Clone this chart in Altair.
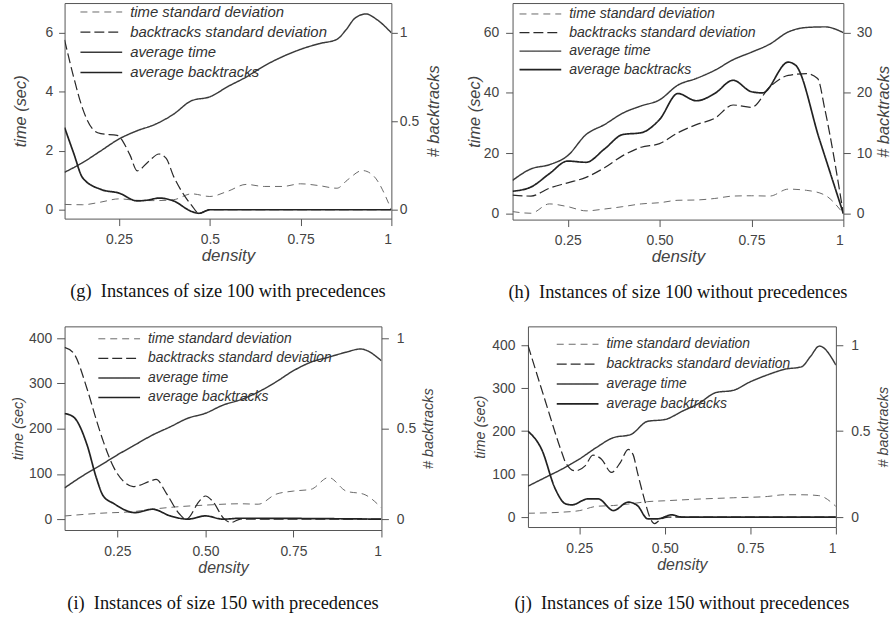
import altair as alt
import pandas as pd

SERIES = ["time standard deviation", "backtracks standard deviation", "average time", "average backtracks"]
DASHES = [[7, 5], [10, 4], [1, 0], [1, 0]]
WIDTHS = [1.0, 1.7, 1.0, 1.8]
COLORS = ["#6a6a6a", "#2a2a2a", "#3a3a3a", "#222222"]

STEP = [0.10, 0.15, 0.20, 0.25, 0.30, 0.35, 0.40, 0.45, 0.50, 0.55, 0.60,
        0.65, 0.70, 0.75, 0.80, 0.85, 0.90, 0.95, 1.00]

# ---------------- panel (g) ----------------
G_AT_X = [0.10, 0.15, 0.20, 0.25, 0.30, 0.35, 0.40, 0.45, 0.50, 0.55, 0.60, 0.65, 0.70, 0.75, 0.80, 0.85, 0.875, 0.90, 0.93, 0.96, 1.00]
G_AT_Y = [1.27, 1.60, 2.00, 2.40, 2.68, 2.90, 3.24, 3.70, 3.83, 4.18, 4.50, 4.88, 5.19, 5.44, 5.63, 5.78, 6.10, 6.50, 6.64, 6.45, 6.00]
G_TSD_X = [0.10, 0.15, 0.20, 0.25, 0.30, 0.35, 0.40, 0.45, 0.50, 0.55, 0.60, 0.65, 0.70, 0.75, 0.80, 0.85, 0.88, 0.92, 0.95, 1.00]
G_TSD_Y = [0.18, 0.17, 0.26, 0.37, 0.32, 0.31, 0.34, 0.54, 0.45, 0.63, 0.86, 0.79, 0.79, 0.88, 0.82, 0.73, 1.02, 1.33, 1.16, 0.00]
G_BSD_X = [0.10, 0.125, 0.15, 0.18, 0.20, 0.245, 0.28, 0.30, 0.33, 0.36, 0.38, 0.40, 0.43, 0.45, 0.47, 0.50, 0.55, 1.00]
G_BSD_Y = [0.96, 0.75, 0.57, 0.45, 0.43, 0.42, 0.31, 0.22, 0.27, 0.315, 0.29, 0.19, 0.08, 0.025, -0.02, 0.0, 0.0, 0.0]
G_AB_X = [0.10, 0.125, 0.15, 0.20, 0.25, 0.30, 0.33, 0.36, 0.40, 0.45, 0.47, 0.50, 0.55, 1.00]
G_AB_Y = [0.465, 0.32, 0.18, 0.115, 0.094, 0.05, 0.055, 0.066, 0.05, -0.01, -0.02, 0.0, 0.0, 0.0]

# ---------------- panel (h) ----------------
H_AT_X = STEP
H_AT_Y = [11.0, 14.8, 16.2, 19.2, 26.2, 29.5, 33.3, 35.7, 37.7, 42.6, 44.8, 47.5, 51.0, 53.5, 56.2, 60.2, 61.7, 61.9, 60.0]
H_TSD_X = STEP
H_TSD_Y = [0.65, 0.1, 3.2, 2.3, 0.9, 1.5, 2.3, 3.2, 3.6, 4.4, 4.5, 5.0, 5.8, 5.9, 5.8, 8.1, 7.7, 6.1, 0.0]
H_BSD_X = [0.10, 0.15, 0.20, 0.25, 0.30, 0.35, 0.40, 0.45, 0.50, 0.55, 0.60, 0.65, 0.70, 0.75, 0.80, 0.85, 0.90, 0.93, 0.95, 1.00]
H_BSD_Y = [3.05, 2.9, 4.2, 5.1, 6.0, 7.6, 9.6, 11.0, 11.6, 13.4, 14.75, 15.8, 18.0, 17.6, 21.0, 22.9, 23.2, 22.4, 17.2, 0.0]
H_AB_X = [0.10, 0.15, 0.20, 0.25, 0.30, 0.35, 0.40, 0.45, 0.50, 0.55, 0.60, 0.65, 0.70, 0.75, 0.78, 0.85, 0.87, 0.935, 1.00]
H_AB_Y = [3.7, 4.4, 6.6, 8.7, 8.5, 10.7, 13.1, 13.4, 15.6, 19.9, 18.7, 19.9, 22.1, 20.2, 20.0, 25.1, 24.6, 12.3, 0.0]

# ---------------- panel (i) ----------------
I_AT_X = [0.10, 0.15, 0.20, 0.25, 0.30, 0.35, 0.40, 0.45, 0.50, 0.55, 0.60, 0.65, 0.70, 0.75, 0.80, 0.85, 0.90, 0.94, 1.00]
I_AT_Y = [69, 95, 118, 142, 164, 186, 204, 223, 234, 252, 264, 281, 303, 328, 347, 358, 369, 376, 350]
I_TSD_X = [0.10, 0.20, 0.30, 0.35, 0.40, 0.50, 0.60, 0.65, 0.70, 0.75, 0.80, 0.85, 0.90, 0.95, 1.00]
I_TSD_Y = [7, 13, 17, 22, 26, 31, 34, 33, 55, 62, 66, 92, 62, 55, 25]
I_BSD_X = [0.10, 0.125, 0.164, 0.19, 0.21, 0.24, 0.267, 0.295, 0.343, 0.36, 0.39, 0.427, 0.446, 0.483, 0.50, 0.52, 0.554, 0.573, 0.60, 1.00]
I_BSD_Y = [0.95, 0.92, 0.72, 0.55, 0.43, 0.285, 0.21, 0.18, 0.21, 0.22, 0.14, 0.027, 0.0, 0.10, 0.128, 0.10, 0.0, -0.018, 0.0, 0.0]
I_AB_X = [0.10, 0.125, 0.164, 0.19, 0.21, 0.24, 0.30, 0.35, 0.40, 0.45, 0.50, 0.55, 0.60, 1.00]
I_AB_Y = [0.584, 0.566, 0.41, 0.23, 0.128, 0.086, 0.036, 0.055, 0.018, 0.0, 0.018, 0.0, 0.005, 0.0]

# ---------------- panel (j) ----------------
J_AT_X = [0.10, 0.15, 0.20, 0.25, 0.30, 0.35, 0.40, 0.45, 0.50, 0.55, 0.60, 0.65, 0.70, 0.75, 0.80, 0.85, 0.90, 0.925, 0.952, 1.00]
J_AT_Y = [72, 92, 112, 135, 162, 185, 192, 223, 227, 246, 265, 290, 295, 315, 331, 344, 350, 373, 398, 354]
J_TSD_X = [0.10, 0.20, 0.25, 0.30, 0.35, 0.40, 0.45, 0.50, 0.60, 0.70, 0.80, 0.85, 0.90, 0.95, 1.00]
J_TSD_Y = [9, 11.5, 15, 25, 27, 31, 36, 38, 42, 45, 48, 52, 52, 50, 25]
J_BSD_X = [0.10, 0.15, 0.20, 0.21, 0.238, 0.267, 0.29, 0.315, 0.344, 0.37, 0.393, 0.407, 0.42, 0.44, 0.456, 0.47, 0.49, 0.51, 1.00]
J_BSD_Y = [1.0, 0.68, 0.37, 0.317, 0.269, 0.298, 0.36, 0.337, 0.26, 0.317, 0.394, 0.365, 0.26, 0.106, 0.0, -0.038, -0.01, 0.0, 0.0]
J_AB_X = [0.10, 0.14, 0.18, 0.21, 0.228, 0.276, 0.305, 0.35, 0.393, 0.42, 0.45, 0.48, 0.52, 0.55, 1.00]
J_AB_Y = [0.5, 0.394, 0.163, 0.077, 0.071, 0.106, 0.106, 0.038, 0.087, 0.067, -0.01, -0.01, 0.013, 0.0, 0.0]

CAPTIONS = [
    "(g)\u2002Instances of size 100 with precedences",
    "(h)\u2002Instances of size 100 without precedences",
    "(i)\u2002Instances of size 150 with precedences",
    "(j)\u2002Instances of size 150 without precedences",
]

FONT = "Liberation Sans"
SERIF = "Liberation Serif"
AXIS_COLOR = "#555555"
TEXT_COLOR = "#444444"


def frame(series_pairs):
    rows = []
    for name, xs, ys in series_pairs:
        for k, (a, b) in enumerate(zip(xs, ys)):
            rows.append({"series": name, "x": a, "v": b, "order": k})
    return pd.DataFrame(rows)


def panel(data, tdom, tticks, bdom, bticks, xlabel_expr, w, h, p, caption):
    time_df = frame([(SERIES[0], data[0][0], data[0][1]), (SERIES[2], data[2][0], data[2][1])])
    bt_df = frame([(SERIES[1], data[1][0], data[1][1]), (SERIES[3], data[3][0], data[3][1])])

    legend = alt.Legend(
        orient="none", legendX=p["lx"], legendY=p["ly"], title=None,
        labelFont=FONT, labelFontStyle="italic", labelFontSize=p["legend"],
        labelColor="#333333", symbolType="M-1,0H1", symbolSize=1764,
        clipHeight=15, rowPadding=p["row"], labelOffset=7, padding=0,
        labelLimit=400,
    )
    enc_common = dict(
        strokeDash=alt.StrokeDash("series:N", scale=alt.Scale(domain=SERIES, range=DASHES), legend=legend),
        strokeWidth=alt.StrokeWidth("series:N", scale=alt.Scale(domain=SERIES, range=WIDTHS), legend=legend),
        color=alt.Color("series:N", scale=alt.Scale(domain=SERIES, range=COLORS), legend=legend),
        order="order:Q",
    )
    x_enc = alt.X(
        "x:Q",
        scale=alt.Scale(domain=[0.1, 1.0], nice=False, zero=False),
        axis=alt.Axis(
            values=[0.25, 0.5, 0.75, 1.0], labelExpr=xlabel_expr, title="density",
            titleFont=FONT, titleFontStyle="italic", titleFontWeight="normal",
            titleFontSize=p["xtitle"], titleColor=TEXT_COLOR, titlePadding=p["xtp"],
            labelFont=FONT, labelFontSize=14, labelColor=TEXT_COLOR,
            labelPadding=p["xlp"], tickSize=7, tickColor=AXIS_COLOR, domain=False, grid=False,
        ),
    )
    tchart = alt.Chart(time_df).mark_line(interpolate="monotone", clip=True).encode(
        x=x_enc,
        y=alt.Y(
            "v:Q", scale=alt.Scale(domain=tdom, nice=False, zero=False),
            axis=alt.Axis(
                values=tticks, title="time (sec)", orient="left",
                titleFont=FONT, titleFontStyle="italic", titleFontWeight="normal",
                titleFontSize=p["ytitle"], titleColor=TEXT_COLOR, titlePadding=p["ytp"],
                labelFont=FONT, labelFontSize=14, labelColor=TEXT_COLOR,
                labelPadding=p["ylp"], tickSize=p["ytick"], tickColor=AXIS_COLOR,
                domain=False, grid=False,
            ),
        ),
        **enc_common,
    )
    bchart = alt.Chart(bt_df).mark_line(interpolate="monotone", clip=True).encode(
        x=x_enc,
        y=alt.Y(
            "v:Q", scale=alt.Scale(domain=bdom, nice=False, zero=False),
            axis=alt.Axis(
                values=bticks, title="# backtracks", orient="right", titleAngle=270,
                titleBaseline="top", labelExpr="datum.value + ''",
                titleFont=FONT, titleFontStyle="italic", titleFontWeight="normal",
                titleFontSize=p["ytitle"], titleColor=TEXT_COLOR, titlePadding=p["btp"],
                labelFont=FONT, labelFontSize=14, labelColor=TEXT_COLOR,
                labelPadding=p["blp"], tickSize=p["btick"], tickColor=AXIS_COLOR,
                domain=False, grid=False,
            ),
        ),
        **enc_common,
    )
    return alt.layer(tchart, bchart).resolve_scale(y="independent").properties(
        width=w, height=h,
        title=alt.TitleParams(
            caption, orient="bottom", anchor="middle", frame="group", font=SERIF,
            fontSize=18.5, fontWeight="normal", color="#111111", offset=p["cap"],
        ),
    )


FMT_G = "datum.value == 1 ? '1' : format(datum.value, '')"
FMT_2 = "datum.value == 1 ? '1' : format(datum.value, '.2f')"

P_G = dict(xtitle=17, ytitle=16.5, legend=15, row=4.3, lx=15, ly=1.5,
           xtp=1.6, xlp=7, ytp=17, ylp=6, ytick=6, btp=7, blp=2, btick=6, cap=18.5)
P_H = dict(xtitle=17, ytitle=16.5, legend=14.2, row=3.7, lx=6, ly=3.5,
           xtp=1.6, xlp=7, ytp=1.2, ylp=7, ytick=7, btp=4, blp=6, btick=7, cap=18.5)
P_I = dict(xtitle=16, ytitle=14.5, legend=14, row=4.7, lx=33, ly=5,
           xtp=1, xlp=8, ytp=3.1, ylp=5, ytick=8, btp=6, blp=8, btick=7, cap=19)
P_J = dict(xtitle=16, ytitle=14.5, legend=14, row=5.0, lx=28, ly=10.5,
           xtp=1, xlp=8, ytp=4.35, ylp=6, ytick=7, btp=7, blp=8, btick=7, cap=22)

g = panel([(G_TSD_X, G_TSD_Y), (G_BSD_X, G_BSD_Y), (G_AT_X, G_AT_Y), (G_AB_X, G_AB_Y)],
          [-0.30, 7.01], [0, 2, 4, 6], [-0.05, 1.168], [0, 0.5, 1],
          FMT_G, 329, 217, P_G, CAPTIONS[0])
h = panel([(H_TSD_X, H_TSD_Y), (H_BSD_X, H_BSD_Y), (H_AT_X, H_AT_Y), (H_AB_X, H_AB_Y)],
          [-2.0, 69.8], [0, 20, 40, 60], [-1.0, 34.9], [0, 10, 20, 30],
          FMT_2, 333, 218, P_H, CAPTIONS[1])
i = panel([(I_TSD_X, I_TSD_Y), (I_BSD_X, I_BSD_Y), (I_AT_X, I_AT_Y), (I_AB_X, I_AB_Y)],
          [-24, 426], [0, 100, 200, 300, 400], [-0.06, 1.066], [0, 0.5, 1],
          FMT_2, 319, 205, P_I, CAPTIONS[2])
j = panel([(J_TSD_X, J_TSD_Y), (J_BSD_X, J_BSD_Y), (J_AT_X, J_AT_Y), (J_AB_X, J_AB_Y)],
          [-23.1, 443.9], [0, 100, 200, 300, 400], [-0.058, 1.110], [0, 0.5, 1],
          FMT_2, 310, 202, P_J, CAPTIONS[3])

indep = dict(strokeDash="independent", strokeWidth="independent", color="independent",
             x="independent", y="independent")

row1 = alt.concat(g, h, columns=2, spacing=22, align="none").resolve_scale(**indep)
row2 = alt.concat(i, j, columns=2, spacing=35.5, align="none").resolve_scale(**indep)

chart = alt.concat(row1, row2, columns=1, spacing=22.5, align="none").resolve_scale(**indep).properties(
    padding={"left": 10, "top": 0, "right": 0, "bottom": 0},
    background="white",
).configure_view(stroke=AXIS_COLOR, strokeWidth=1)

chart.save("out.html", embed_options={"renderer": "svg", "actions": False})
